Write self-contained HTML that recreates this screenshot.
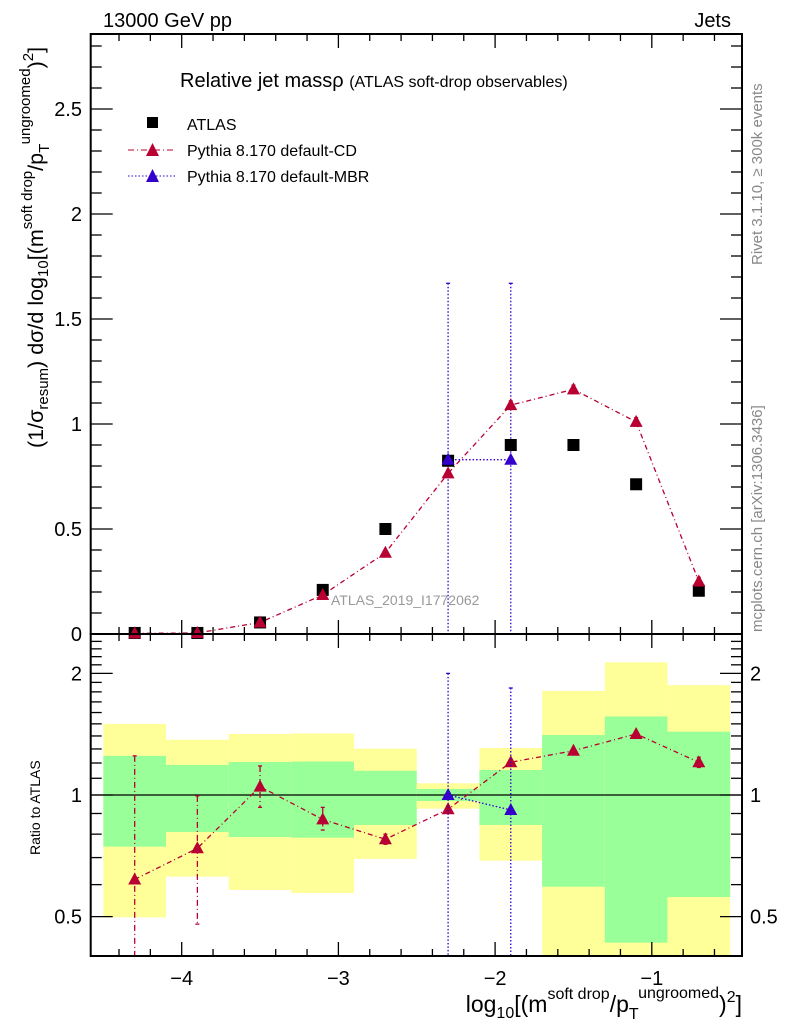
<!DOCTYPE html>
<html><head><meta charset="utf-8"><style>
html,body{margin:0;padding:0;background:#fff;}
svg{display:block;font-family:"Liberation Sans",sans-serif;}
</style></head><body>
<svg id="chart" width="786" height="1024" viewBox="0 0 786 1024" xmlns="http://www.w3.org/2000/svg">
<g id="bands"></g>
<g id="marks"></g>
<g id="axes"></g>
<text x="103" y="27" font-size="20">13000 GeV pp</text>
<text x="731" y="27" font-size="20" text-anchor="end">Jets</text>
<text x="180" y="87" font-size="20">Relative jet massρ <tspan font-size="16">(ATLAS soft-drop observables)</tspan></text>
<g>
<rect x="147" y="117" width="11" height="11" fill="#000"/>
<text x="187" y="130" font-size="16">ATLAS</text>
<line x1="128" y1="150" x2="175" y2="150" stroke="#b80032" stroke-dasharray="6,3,1,3"/>
<polygon points="152.5,143 146,156 159,156" fill="#b80032"/>
<text x="187" y="156" font-size="16">Pythia 8.170 default-CD</text>
<line x1="128" y1="176" x2="175" y2="176" stroke="#3300cc" stroke-dasharray="1.5,2"/>
<polygon points="152.5,169 146,182 159,182" fill="#3300cc"/>
<text x="187" y="182" font-size="16">Pythia 8.170 default-MBR</text>
</g>
<text x="331" y="605" font-size="14" fill="#999">ATLAS_2019_I1772062</text>
<text transform="translate(762,265) rotate(-90)" font-size="15" fill="#888">Rivet 3.1.10, ≥ 300k events</text>
<text transform="translate(762,632) rotate(-90)" font-size="15" fill="#888">mcplots.cern.ch [arXiv:1306.3436]</text>
<text transform="translate(43,448) rotate(-90)" font-size="21.5">(1/σ<tspan font-size="15" dy="5">resum</tspan><tspan dy="-5">) dσ/d log</tspan><tspan font-size="15" dy="5">10</tspan><tspan dy="-5">[(m</tspan><tspan font-size="15" dy="-11">soft drop</tspan><tspan dy="11">/p</tspan><tspan font-size="15" dy="6">T</tspan><tspan font-size="15" dy="-19">ungroomed</tspan><tspan dy="13">)</tspan><tspan font-size="15" dy="-10">2</tspan><tspan dy="10">]</tspan></text>
<text transform="translate(40,855) rotate(-90)" font-size="14">Ratio to ATLAS</text>
<text x="742" y="1012" font-size="23" text-anchor="end">log<tspan font-size="16" dy="6">10</tspan><tspan dy="-6">[(m</tspan><tspan font-size="16" dy="-13">soft drop</tspan><tspan dy="13">/p</tspan><tspan font-size="16" dy="7">T</tspan><tspan font-size="16" dy="-21">ungroomed</tspan><tspan dy="14">)</tspan><tspan font-size="16" dy="-10">2</tspan><tspan dy="10">]</tspan></text>
</svg>
<script>
const edges=[-4.5,-4.1,-3.7,-3.3,-2.9,-2.5,-2.1,-1.7,-1.3,-0.9,-0.5];
const atlas=[0.005,0.005,0.055,0.21,0.50,0.825,0.90,0.90,0.713,0.206];
const cd=[0.003,0.005,0.055,0.186,0.387,0.765,1.09,1.165,1.01,0.25];
const cdErr=[0.003,0.003,0.01,0.01,0.01,0.015,0.02,0.02,0.02,0.02];
const mbrIdx=[5,6];
const mbr=[0.83,0.83];
const mbrErr=[0.84,0.84];
const ratioCd=[0.618,0.738,1.049,0.87,0.777,0.922,1.205,1.287,1.416,1.205];
const ratioCdUp=[1.25,0.995,1.18,0.932,0.80,0.94,1.22,1.30,1.43,1.24];
const ratioCdDn=[0.3,0.479,0.932,0.819,0.755,0.905,1.19,1.27,1.40,1.17];
const ratioMbr=[1.0,0.918];
const ratioMbrUp=[2.0,1.84];
const ratioMbrDn=[0.3,0.3];
const yelTop=[1.50,1.37,1.416,1.42,1.302,1.069,1.307,1.81,2.13,1.87];
const yelBot=[0.498,0.628,0.582,0.572,0.695,0.925,0.688,0.3,0.3,0.3];
const grnTop=[1.25,1.187,1.207,1.21,1.148,1.035,1.153,1.408,1.565,1.435];
const grnBot=[0.745,0.81,0.787,0.784,0.843,0.966,0.843,0.593,0.431,0.559];
const xTicks=[-4,-3,-2,-1];
const mainTicks=[0.5,1,1.5,2,2.5];
const mainTickLabels=["0.5","1","1.5","2","2.5"];
const ratioTicks=[0.5,1,2];
const ratioTickLabels=["0.5","1","2"];

const L=90.7,R=742,T=34,MB=634,RB=956;
const X=v=>181.7+(v+4)*156.7;
const Y=v=>634-v*210;
const YR=v=>Math.max(MB,Math.min(RB,795-404*Math.log10(v)));
const NS="http://www.w3.org/2000/svg";
function mk(par,tag,attrs){const e=document.createElementNS(NS,tag);for(const k in attrs)e.setAttribute(k,attrs[k]);document.getElementById(par).appendChild(e);return e;}
const cen=i=>(edges[i]+edges[i+1])/2;
const CDC="#b80032",MBC="#3300cc";
for(let i=0;i<yelTop.length;i++){
 const x1=X(edges[i]),x2=X(edges[i+1]);
 let e=mk('bands','rect',{x:x1,y:YR(yelTop[i]),width:x2-x1,height:YR(yelBot[i])-YR(yelTop[i]),fill:'#ffff99'});
 
 
 e=mk('bands','rect',{x:x1,y:YR(grnTop[i]),width:x2-x1,height:YR(grnBot[i])-YR(grnTop[i]),fill:'#99ff99'});
 
 
}
let ul=mk('bands','line',{x1:L,x2:R,y1:YR(1),y2:YR(1),stroke:'#000','stroke-width':1.3});


function tri(x,y,c,name){const t=mk('marks','polygon',{points:`${x},${y-7} ${x-6.5},${y+5} ${x+6.5},${y+5}`,fill:c});
 
 }
function vline(x,y1,y2,c,dash,name){const l=mk('marks','line',{x1:x,x2:x,y1:y1,y2:y2,stroke:c,'stroke-width':1.3,'stroke-dasharray':dash});
 
 
 for(const yy of [y1,y2]){const c2=mk('marks','line',{x1:x-2,x2:x+2,y1:yy,y2:yy,stroke:c,'stroke-width':1.3});
 
 }}
let p=mk('marks','polyline',{points:cd.map((v,i)=>X(cen(i))+','+Y(v)).join(' '),fill:'none',stroke:CDC,'stroke-width':1.3,'stroke-dasharray':'5,3,1,3'});


p=mk('marks','polyline',{points:mbr.map((v,j)=>X(cen(mbrIdx[j]))+','+Y(v)).join(' '),fill:'none',stroke:MBC,'stroke-width':1.3,'stroke-dasharray':'1.5,2'});


mbr.forEach((v,j)=>vline(X(cen(mbrIdx[j])),Y(v+mbrErr[j]),MB,MBC,'1.5,2','mbr-error-bar'));
atlas.forEach((v,i)=>{const r=mk('marks','rect',{x:X(cen(i))-6,y:Y(v)-6,width:12,height:12,fill:'#000'});
 
 });
cd.forEach((v,i)=>{vline(X(cen(i)),Y(v+cdErr[i]),Y(Math.max(0,v-cdErr[i])),CDC,'none','cd-error-bar');tri(X(cen(i)),Y(v),CDC,'cd-point');});
mbr.forEach((v,j)=>tri(X(cen(mbrIdx[j])),Y(v),MBC,'mbr-point'));
p=mk('marks','polyline',{points:ratioCd.map((v,i)=>X(cen(i))+','+YR(v)).join(' '),fill:'none',stroke:CDC,'stroke-width':1.3,'stroke-dasharray':'5,3,1,3'});


p=mk('marks','polyline',{points:ratioMbr.map((v,j)=>X(cen(mbrIdx[j]))+','+YR(v)).join(' '),fill:'none',stroke:MBC,'stroke-width':1.3,'stroke-dasharray':'1.5,2'});


ratioCd.forEach((v,i)=>{vline(X(cen(i)),YR(ratioCdUp[i]),YR(ratioCdDn[i]),CDC,'6,3,1,3','ratio-cd-error-bar');tri(X(cen(i)),YR(v),CDC,'ratio-cd-point');});
ratioMbr.forEach((v,j)=>{vline(X(cen(mbrIdx[j])),YR(ratioMbrUp[j]),YR(ratioMbrDn[j]),MBC,'1.5,2','ratio-mbr-error-bar');tri(X(cen(mbrIdx[j])),YR(v),MBC,'ratio-mbr-point');});
for(const [y1,y2,n] of [[T,MB,'main-frame'],[MB,RB,'ratio-frame']]){const r=mk('axes','rect',{x:L,y:y1,width:R-L,height:y2-y1,fill:'none',stroke:'#000','stroke-width':2});
 
 }
function tk(x1,y1,x2,y2){const l=mk('axes','line',{x1:x1,y1:y1,x2:x2,y2:y2,stroke:'#000','stroke-width':1.3});
 
 }
function lbl(x,y,s,anc,name){const t=mk('axes','text',{x:x,y:y,'font-size':20,'text-anchor':anc});t.textContent=s;
 
 }
for(let k=-46;k<=-4;k+=2){const v=k/10,x=X(v);if(x<L||x>R)continue;const maj=Math.abs(v-Math.round(v))<1e-6;const len=maj?14:7;
 tk(x,MB,x,MB-len);tk(x,T,x,T+len);tk(x,RB,x,RB-len);tk(x,MB,x,MB+len);}
xTicks.forEach(v=>lbl(X(v),985,'\u2212'+Math.abs(v),'middle','x-tick-label'));
for(let k=0;k<=28;k++){const y=Y(k/10);const len=k%5===0?22:11;tk(L,y,L+len,y);tk(R,y,R-len,y);}
mainTicks.forEach((v,i)=>lbl(82,Y(v)+7,mainTickLabels[i],'end','main-y-tick-label'));
lbl(82,641,'0','end','main-y-tick-label');
for(let k=4;k<=25;k++){const v=k/10;const y=YR(v);if(y<=MB+1||y>=RB)continue;const maj=(k===5||k===10||k===20);const len=maj?22:11;tk(L,y,L+len,y);tk(R,y,R-len,y);}
ratioTicks.forEach((v,i)=>{lbl(82,YR(v)+7,ratioTickLabels[i],'end','ratio-y-tick-label');lbl(750,YR(v)+7,ratioTickLabels[i],'start','ratio-y-tick-label-right');});
</script>
</body></html>
